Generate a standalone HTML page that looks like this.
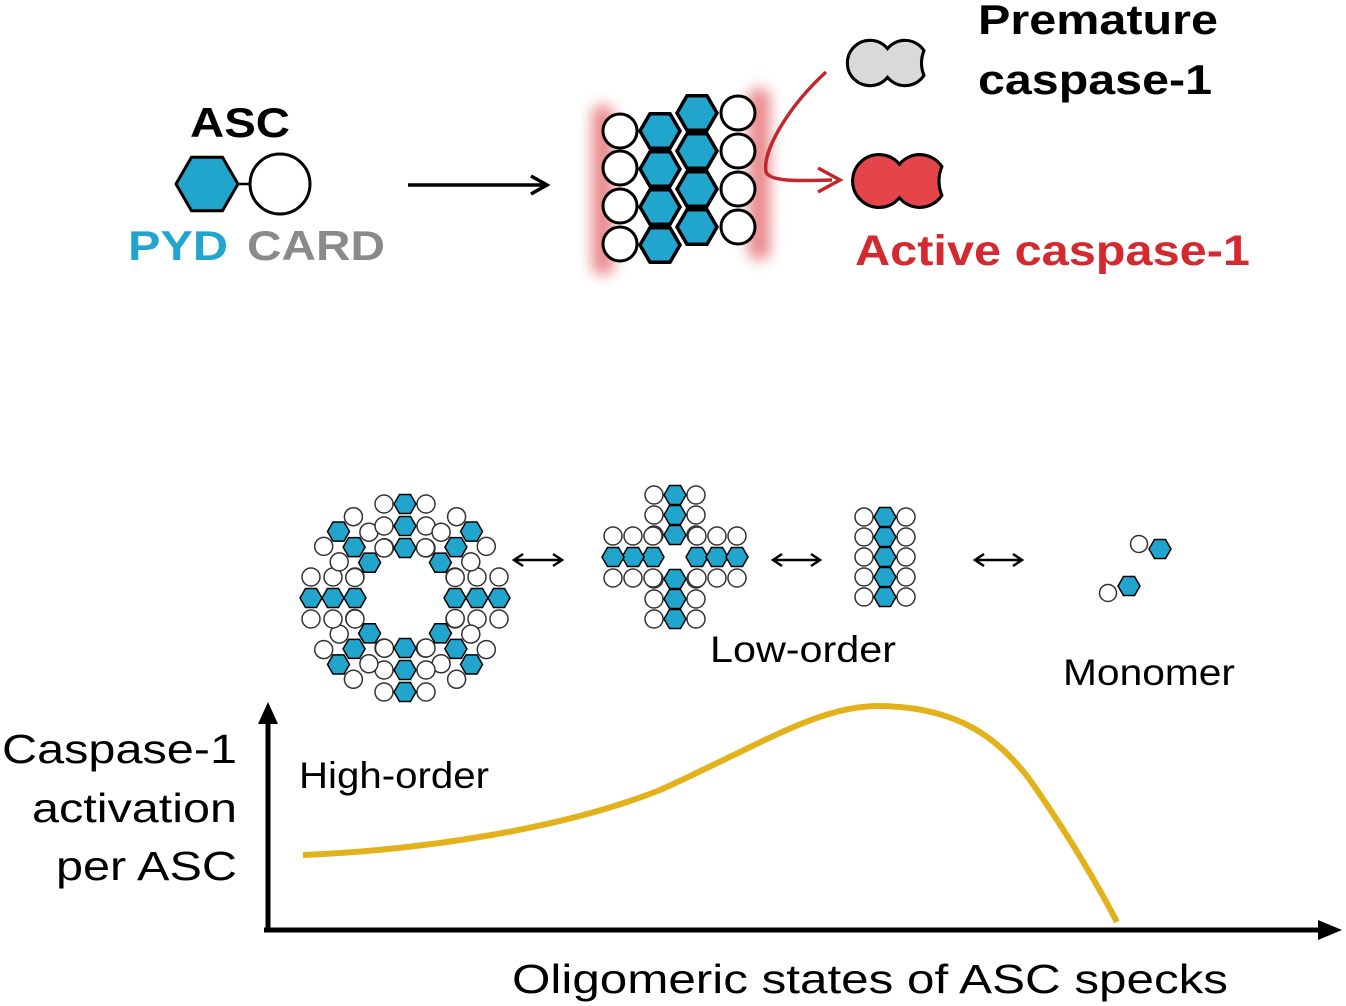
<!DOCTYPE html>
<html><head><meta charset="utf-8"><style>
html,body{margin:0;padding:0;background:#fff;}
svg{display:block}
text{font-family:"Liberation Sans",sans-serif}
</style></head><body>
<svg id="s" width="1346" height="1006" viewBox="0 0 1346 1006" xmlns="http://www.w3.org/2000/svg">
<defs>
<filter id="blur" x="-3" y="-1" width="7" height="3"><feGaussianBlur stdDeviation="7"/></filter>
</defs>
<!-- glow -->
<rect x="592" y="105" width="22" height="170" rx="10" fill="#e57377" opacity="0.85" filter="url(#blur)"/>
<rect x="748" y="88" width="22" height="172" rx="10" fill="#e57377" opacity="0.85" filter="url(#blur)"/>
<g id="shapes"></g>

<text x="190" y="137" font-size="42" font-weight="bold" fill="#000" textLength="100" lengthAdjust="spacingAndGlyphs">ASC</text>
<text x="128" y="260" font-size="42" font-weight="bold" fill="#22a5cc" textLength="100" lengthAdjust="spacingAndGlyphs">PYD</text>
<text x="247" y="260" font-size="42" font-weight="bold" fill="#8a8a8a" textLength="138" lengthAdjust="spacingAndGlyphs">CARD</text>
<line x1="408" y1="185" x2="545" y2="185" stroke="#000" stroke-width="3.5"/>
<path d="M531,176 L547,185 L531,194" fill="none" stroke="#000" stroke-width="3.5"/>

<path d="M826,72 C790,105 762,150 766,172 C770,182 800,181 832,180" fill="none" stroke="#c1272d" stroke-width="3.5"/>
<path d="M818,168 L840,180 L818,192" fill="none" stroke="#c1272d" stroke-width="3.5"/>

<text x="978" y="34" font-size="42" font-weight="bold" fill="#000" textLength="240" lengthAdjust="spacingAndGlyphs">Premature</text>
<text x="978" y="94" font-size="42" font-weight="bold" fill="#000" textLength="234" lengthAdjust="spacingAndGlyphs">caspase-1</text>
<text x="855" y="265" font-size="43" font-weight="bold" fill="#d42a2f" textLength="395" lengthAdjust="spacingAndGlyphs">Active caspase-1</text>

<g stroke="#000" stroke-width="2.5" fill="none">
<line x1="516" y1="560" x2="560" y2="560"/><path d="M523,554 L514,560 L523,566 M553,554 L562,560 L553,566"/>
<line x1="775" y1="560" x2="818" y2="560"/><path d="M782,554 L773,560 L782,566 M811,554 L820,560 L811,566"/>
<line x1="977" y1="560" x2="1020" y2="560"/><path d="M984,554 L975,560 L984,566 M1013,554 L1022,560 L1013,566"/>
</g>
<text x="710" y="662" font-size="37" fill="#000" textLength="186" lengthAdjust="spacingAndGlyphs">Low-order</text>
<text x="1063" y="685" font-size="37" fill="#000" textLength="172" lengthAdjust="spacingAndGlyphs">Monomer</text>
<text x="299" y="788" font-size="37" fill="#000" textLength="190" lengthAdjust="spacingAndGlyphs">High-order</text>

<line x1="268" y1="932" x2="268" y2="720" stroke="#000" stroke-width="5"/>
<path d="M258,724 L268,702 L278,724 Z" fill="#000"/>
<line x1="264" y1="930" x2="1322" y2="930" stroke="#000" stroke-width="5"/>
<path d="M1318,920 L1342,930 L1318,940 Z" fill="#000"/>
<path d="M303,855 C420,850 560,830 660,790 C760,745 820,705 880,706 C960,707 1000,740 1030,780 C1065,830 1095,880 1117,922" fill="none" stroke="#e3b21a" stroke-width="6"/>
<text x="2" y="763" font-size="41" fill="#000" textLength="235" lengthAdjust="spacingAndGlyphs">Caspase-1</text>
<text x="32" y="822" font-size="41" fill="#000" textLength="205" lengthAdjust="spacingAndGlyphs">activation</text>
<text x="56" y="880" font-size="41" fill="#000" textLength="181" lengthAdjust="spacingAndGlyphs">per ASC</text>
<text x="512" y="993" font-size="41" fill="#000" textLength="716" lengthAdjust="spacingAndGlyphs">Oligomeric states of ASC specks</text>
</svg>
<script>
var g=document.getElementById('shapes'),out=[];
function hex(cx,cy,w,sw){var r=w/2,p=[];for(var i=0;i<6;i++){var a=Math.PI/3*i;p.push((cx+r*Math.cos(a)).toFixed(1)+','+(cy+r*Math.sin(a)).toFixed(1));}
out.push('<polygon points="'+p.join(' ')+'" fill="#22a5cc" stroke="#000" stroke-width="'+(sw||1.5)+'"/>');}
function circ(cx,cy,r,sw,col){out.push('<circle cx="'+cx+'" cy="'+cy+'" r="'+r+'" fill="#fff" stroke="'+(col||'#333')+'" stroke-width="'+(sw||1.5)+'"/>');}
out.push('<line x1="230" y1="184" x2="252" y2="184" stroke="#000" stroke-width="2.5"/>');
hex(207,184,62,3);circ(280,184,30,3,'#000');
[131,168,206,244].forEach(function(y){circ(620,y,17,3,'#000');});
[113,151,189,227].forEach(function(y){circ(738,y,17,3,'#000');});
[131,169,207,245].forEach(function(y){hex(660,y,40,3.5);});
[113,151,189,227].forEach(function(y){hex(697,y,40,3.5);});
var cx=405,cy=598;
for(var k=0;k<8;k++){var a=k*Math.PI/4,dx=Math.cos(a),dy=Math.sin(a),px=-dy,py=dx;
 [50,72,94].forEach(function(r){var x=cx+dx*r,y=cy+dy*r;
  circ((x+px*21).toFixed(1),(y+py*21).toFixed(1),9);circ((x-px*21).toFixed(1),(y-py*21).toFixed(1),9);});}
for(var k=0;k<8;k++){var a=k*Math.PI/4,dx=Math.cos(a),dy=Math.sin(a);
 [50,72,94].forEach(function(r){hex(cx+dx*r,cy+dy*r,22);});}
var X=675,Y=557;
[[0,-1],[0,1],[-1,0],[1,0]].forEach(function(d){[22,42,62].forEach(function(r){var x=X+d[0]*r,y=Y+d[1]*r;
 var px=-d[1],py=d[0];circ(x+px*21,y+py*21,9);circ(x-px*21,y-py*21,9);});});
[[0,-1],[0,1],[-1,0],[1,0]].forEach(function(d){[22,42,62].forEach(function(r){hex(X+d[0]*r,Y+d[1]*r,22);});});
[517,537,557,577,597].forEach(function(y){circ(864,y,9);circ(906,y,9);hex(885,y,22);});
circ(1139,544,8.5);hex(1160,549,22);circ(1108,593,8.5);hex(1129,586,22);
var cp='M17,-14 A22,22 0 0 1 52.4,-12 A32,32 0 0 0 52.4,12 A22,22 0 0 1 17,14 A22,22 0 1 1 17,-14 Z';
out.push('<path d="'+cp+'" transform="translate(870,63) scale(1.03)" fill="#d9d9d9" stroke="#000" stroke-width="3"/>');
out.push('<path d="'+cp+'" transform="translate(879,181) scale(1.2)" fill="#e5444a" stroke="#000" stroke-width="2.6"/>');
g.innerHTML=out.join('');
</script>
</body></html>
